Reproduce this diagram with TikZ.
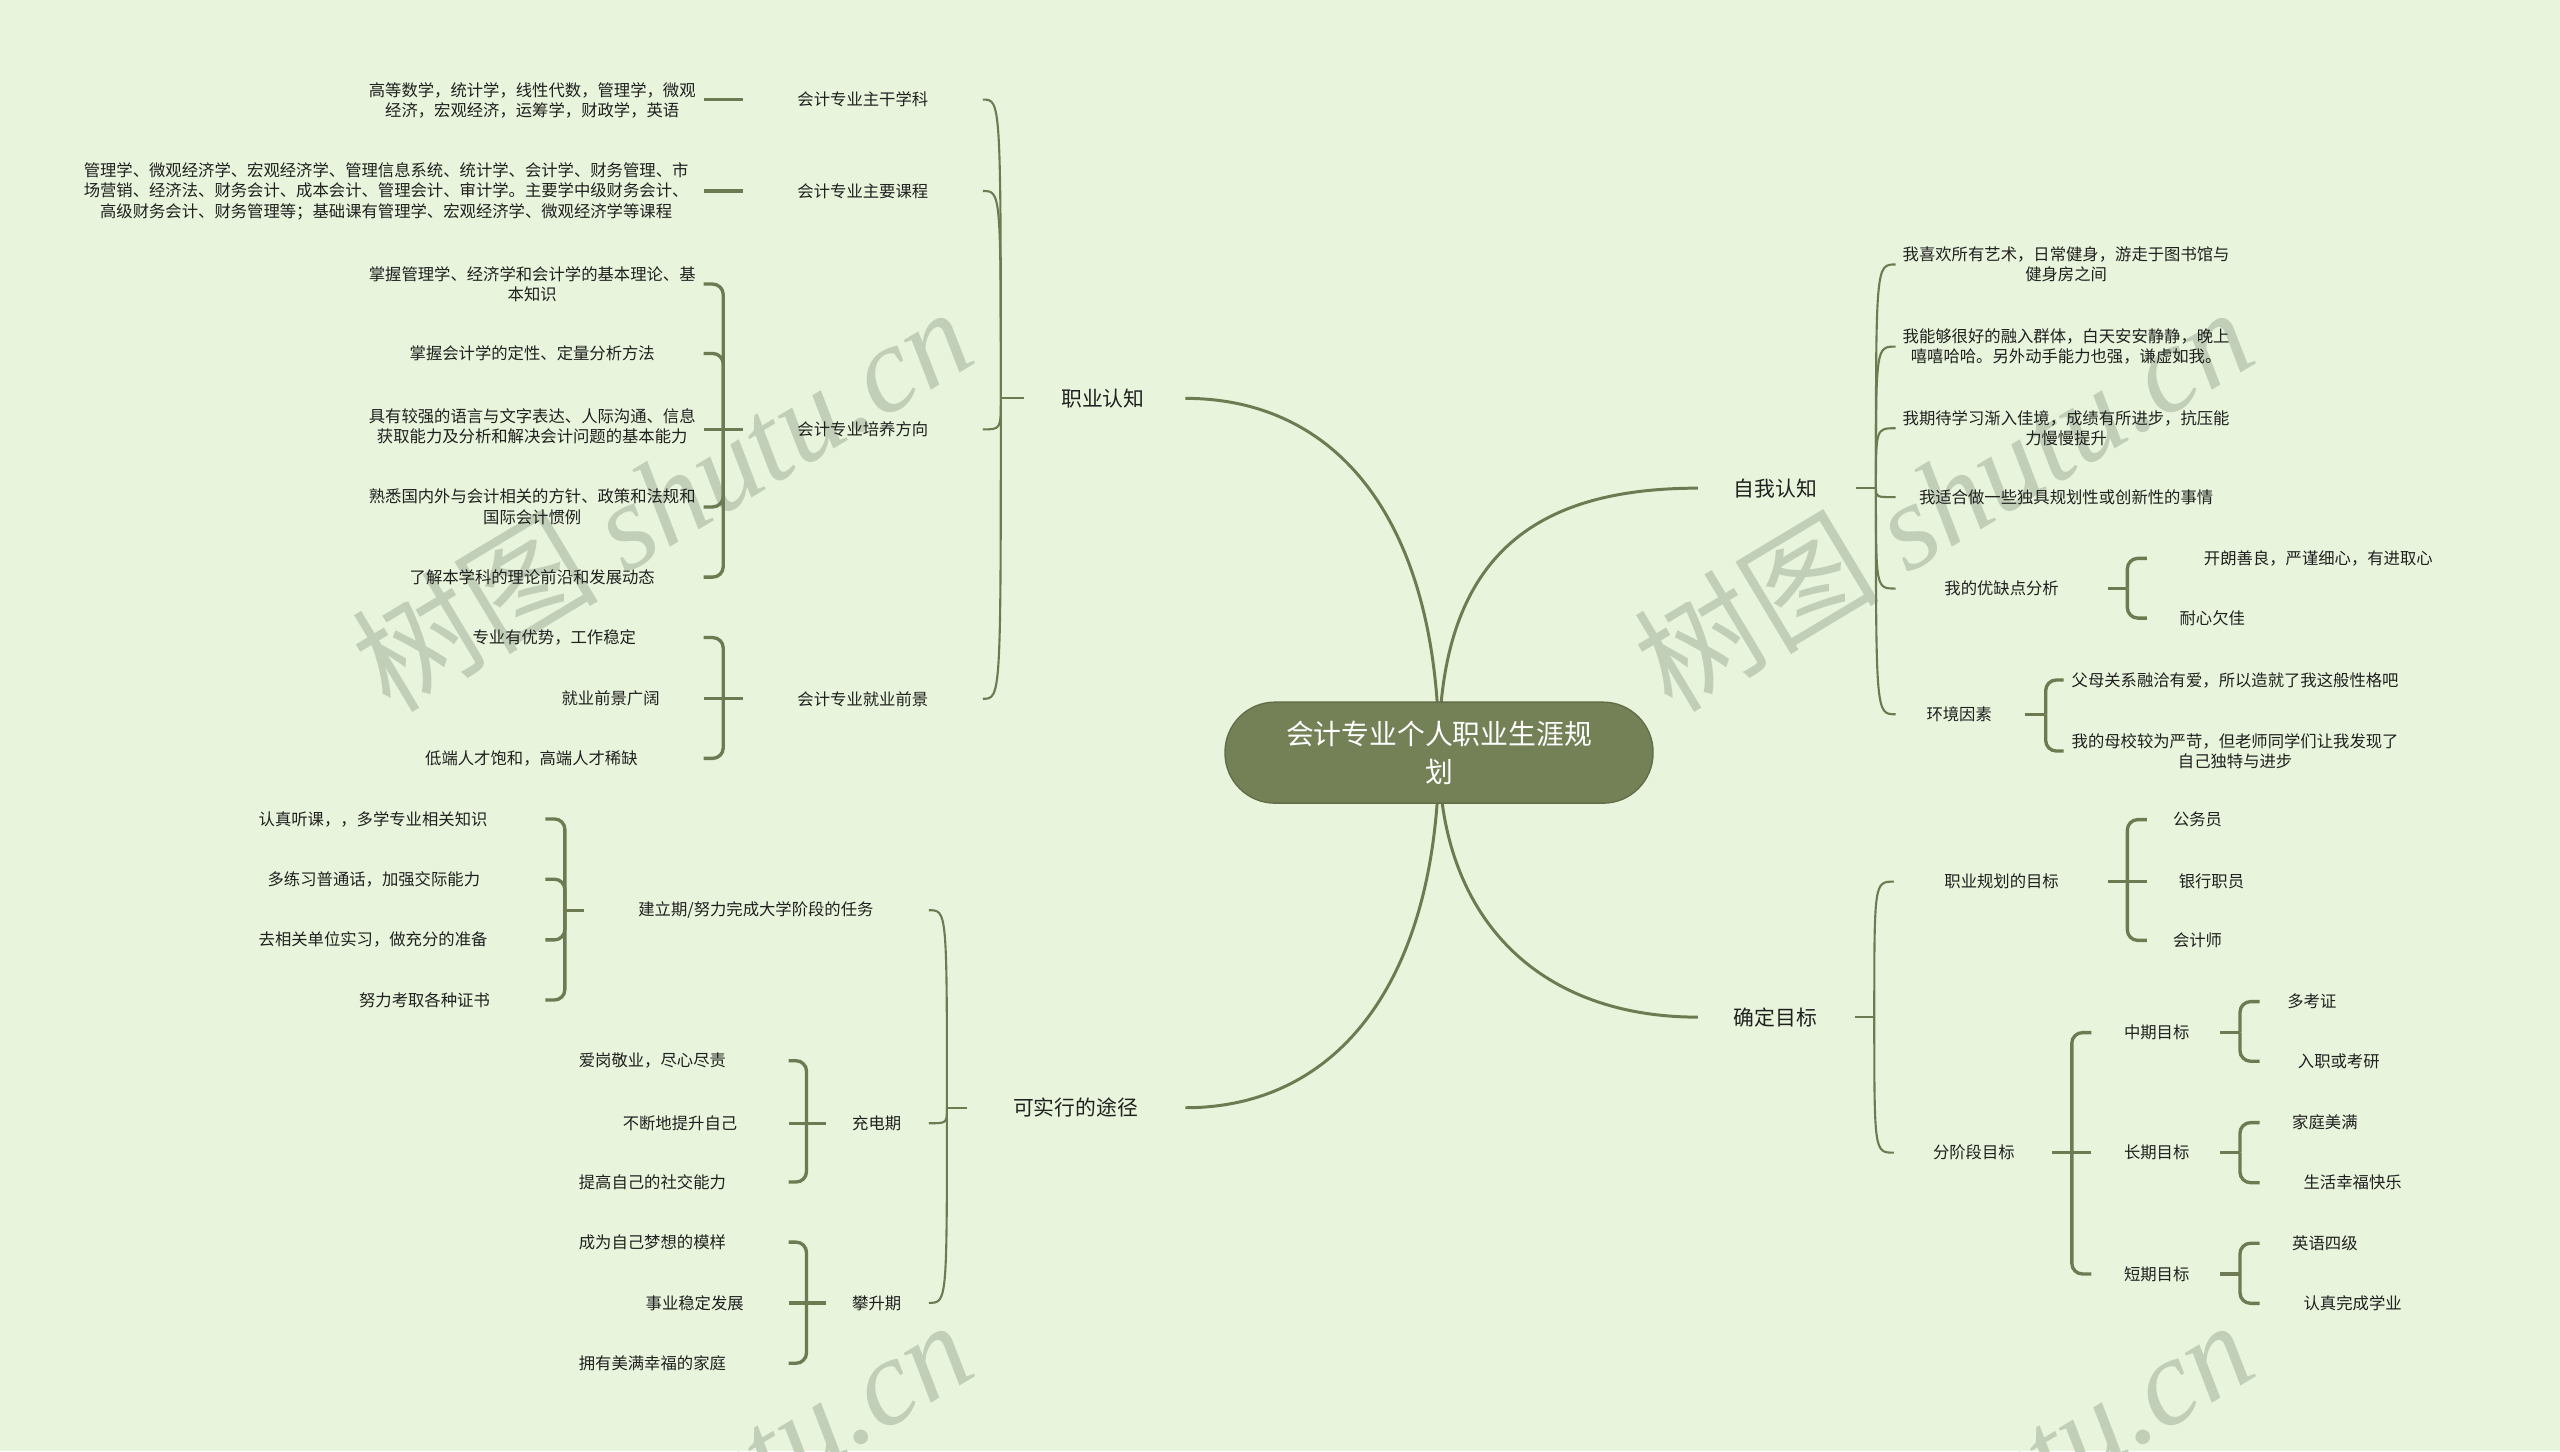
\documentclass[tikz,border=0pt]{standalone}
\usepackage{fontspec}
\setmainfont{Noto Sans CJK SC}
\newfontfamily\wmserif{Liberation Serif}
\usetikzlibrary{calc}
\definecolor{bgc}{RGB}{232,244,219}
\definecolor{lnc}{RGB}{110,123,82}
\definecolor{ctrc}{RGB}{116,129,86}
\definecolor{txc}{RGB}{32,32,32}
\definecolor{wmc}{RGB}{194,207,184}
\pgfdeclarelayer{bgfill}
\pgfdeclarelayer{wmark}
\pgfdeclarelayer{lines}
\pgfsetlayers{bgfill,wmark,lines,main}
\tikzset{
  sm/.style={font=\fontsize{4.65}{5.85}\selectfont, text=txc, align=center, inner sep=0pt},
  lb/.style={font=\fontsize{5.92}{7.5}\selectfont, text=txc, align=center, inner sep=0pt},
  mainln/.style={draw=lnc, line width=0.85pt},
  subln/.style={draw=lnc, line width=0.6pt},
  brk/.style={draw=lnc, line width=0.95pt, rounded corners=3pt},
  wm/.style={text=wmc, font=\fontsize{35}{35}\selectfont, inner sep=0pt},
  rootbox/.style={fill=ctrc, draw=ctrc!85!black, line width=0.4pt, rounded corners=0.5cm,
    minimum width=4.28cm, minimum height=1.01cm, inner sep=0pt, text=white, align=center,
    font=\fontsize{7.91}{10.7}\selectfont}
}
\begin{document}
\begin{tikzpicture}[x=0.016327cm,y=-0.016327cm]
\useasboundingbox (0,0) rectangle (1568,889);
\begin{pgfonlayer}{bgfill}
\fill[bgc] (0,0) rectangle (1568,889);
\end{pgfonlayer}
\begin{pgfonlayer}{wmark}
\node[wm, rotate=31] (w1) at (405,305) {树图 {\wmserif\itshape shutu.cn}};
\node[wm, rotate=31] (w2) at (1190,305) {树图 {\wmserif\itshape shutu.cn}};
\node[wm, rotate=31] (w3) at (405,925) {树图 {\wmserif\itshape shutu.cn}};
\node[wm, rotate=31] (w4) at (1190,925) {树图 {\wmserif\itshape shutu.cn}};
\end{pgfonlayer}

% x reference coordinates
\foreach \v in {726,627,613,602,455,443,431,592,580,569,358,346,334,506,494,483,1040,1137,1149,1161,1291,1303,1315,1240,1253,1264,1136,1148,1160,1257,1269,1281,1360,1372,1384}
  \coordinate (x\v) at (\v,0);

% root
\node[rootbox] (root) at (881.4,461) {会计专业个人职业生涯规\\划};

% main branches
\node[lb] (zy) at (675.5,244) {职业认知};
\node[lb] (kx) at (658.75,678.5) {可实行的途径};
\node[lb] (zw) at (1087.5,299) {自我认知};
\node[lb] (qd) at (1087.5,623) {确定目标};

% 职业认知 children
\node[sm] (a1) at (528.5,61) {会计专业主干学科};
\node[sm] (a2) at (528.5,117) {会计专业主要课程};
\node[sm] (a3) at (528.5,263) {会计专业培养方向};
\node[sm] (a4) at (528.5,428) {会计专业就业前景};
\node[sm] (b1) at (326,61.5) {高等数学，统计学，线性代数，管理学，微观\\经济，宏观经济，运筹学，财政学，英语};
\node[sm] (b2) at (236.5,117) {管理学、微观经济学、宏观经济学、管理信息系统、统计学、会计学、财务管理、市\\场营销、经济法、财务会计、成本会计、管理会计、审计学。主要学中级财务会计、\\高级财务会计、财务管理等；基础课有管理学、宏观经济学、微观经济学等课程};
\node[sm] (c1) at (326,174) {掌握管理学、经济学和会计学的基本理论、基\\本知识};
\node[sm] (c2) at (326,216.5) {掌握会计学的定性、定量分析方法};
\node[sm] (c3) at (326,261) {具有较强的语言与文字表达、人际沟通、信息\\获取能力及分析和解决会计问题的基本能力};
\node[sm] (c4) at (326,310.5) {熟悉国内外与会计相关的方针、政策和法规和\\国际会计惯例};
\node[sm] (c5) at (326,353.5) {了解本学科的理论前沿和发展动态};
\node[sm] (d1) at (339.5,390.5) {专业有优势，工作稳定};
\node[sm] (d2) at (374,428) {就业前景广阔};
\node[sm] (d3) at (325.5,464.5) {低端人才饱和，高端人才稀缺};

% 可实行的途径 children
\node[sm] (e1) at (463,557.5) {建立期/努力完成大学阶段的任务};
\node[sm] (e2) at (537,688) {充电期};
\node[sm] (e3) at (537,798) {攀升期};
\node[sm] (f1) at (228.5,501.6) {认真听课，，多学专业相关知识};
\node[sm] (f2) at (229,538.5) {多练习普通话，加强交际能力};
\node[sm] (f3) at (228.5,575.7) {去相关单位实习，做充分的准备};
\node[sm] (f4) at (260,612.5) {努力考取各种证书};
\node[sm] (g1) at (399.6,649.7) {爱岗敬业，尽心尽责};
\node[sm] (g2) at (416.5,688) {不断地提升自己};
\node[sm] (g3) at (399.6,724) {提高自己的社交能力};
\node[sm] (h1) at (399.6,760.8) {成为自己梦想的模样};
\node[sm] (h2) at (425.5,798) {事业稳定发展};
\node[sm] (h3) at (399.6,835) {拥有美满幸福的家庭};

% 自我认知 children
\node[sm] (i1) at (1265.5,162) {我喜欢所有艺术，日常健身，游走于图书馆与\\健身房之间};
\node[sm] (i2) at (1265.5,212.3) {我能够很好的融入群体，白天安安静静，晚上\\嘻嘻哈哈。另外动手能力也强，谦虚如我。};
\node[sm] (i3) at (1265.5,262.3) {我期待学习渐入佳境，成绩有所进步，抗压能\\力慢慢提升};
\node[sm] (i4) at (1265.5,304.5) {我适合做一些独具规划性或创新性的事情};
\node[sm] (i5) at (1226,360.5) {我的优缺点分析};
\node[sm] (i6) at (1200,437.5) {环境因素};
\node[sm] (j1) at (1420,342) {开朗善良，严谨细心，有进取心};
\node[sm] (j2) at (1355,378.6) {耐心欠佳};
\node[sm] (k1) at (1369,416.5) {父母关系融洽有爱，所以造就了我这般性格吧};
\node[sm] (k2) at (1369,460) {我的母校较为严苛，但老师同学们让我发现了\\自己独特与进步};

% 确定目标 children
\node[sm] (l1) at (1226,540) {职业规划的目标};
\node[sm] (l2) at (1209,706) {分阶段目标};
\node[sm] (m1) at (1346,502) {公务员};
\node[sm] (m2) at (1354.5,540) {银行职员};
\node[sm] (m3) at (1346,576) {会计师};
\node[sm] (n1) at (1321,632.5) {中期目标};
\node[sm] (n2) at (1321,706) {长期目标};
\node[sm] (n3) at (1321,780.3) {短期目标};
\node[sm] (o1) at (1416,613.5) {多考证};
\node[sm] (o2) at (1432.5,650) {入职或考研};
\node[sm] (o3) at (1424,687.6) {家庭美满};
\node[sm] (o4) at (1441,724.4) {生活幸福快乐};
\node[sm] (o5) at (1424,761.5) {英语四级};
\node[sm] (o6) at (1441,798.3) {认真完成学业};

\begin{pgfonlayer}{lines}
% main curves
\draw[mainln] (root.center) .. controls (881,320) and (820,244) .. (zy -| x726);
\draw[mainln] (root.center) .. controls (881,340) and (940,299) .. (zw -| x1040);
\draw[mainln] (root.center) .. controls (881,600) and (820,678.5) .. (kx -| x726);
\draw[mainln] (root.center) .. controls (881,560) and (940,623) .. (qd -| x1040);

% 职业认知
\draw[subln] (zy -| x627) -- (zy -| x613);
\foreach \c in {a1,a2,a3,a4}
  \draw[subln] (zy -| x613) .. controls (x613 |- \c) and (x613 |- \c) .. (\c -| x602);
\draw[brk] (a1 -| x455) -- (a1 -| x431);
\draw[brk] (a2 -| x455) -- (a2 -| x431);
\draw[brk] (a3 -| x455) -- (a3 -| x431);
\foreach \c in {c1,c2,c4,c5} \draw[brk] (a3 -| x443) |- (\c -| x431);
\draw[brk] (a4 -| x455) -- (a4 -| x431);
\foreach \c in {d1,d3} \draw[brk] (a4 -| x443) |- (\c -| x431);

% 可实行的途径
\draw[subln] (kx -| x592) -- (kx -| x580);
\foreach \c in {e1,e2,e3}
  \draw[subln] (kx -| x580) .. controls (x580 |- \c) and (x580 |- \c) .. (\c -| x569);
\draw[brk] (e1 -| x358) -- (e1 -| x346);
\foreach \c in {f1,f2,f3,f4} \draw[brk] (e1 -| x346) |- (\c -| x334);
\draw[brk] (e2 -| x506) -- (e2 -| x483);
\foreach \c in {g1,g3} \draw[brk] (e2 -| x494) |- (\c -| x483);
\draw[brk] (e3 -| x506) -- (e3 -| x483);
\foreach \c in {h1,h3} \draw[brk] (e3 -| x494) |- (\c -| x483);

% 自我认知
\draw[subln] (zw -| x1137) -- (zw -| x1149);
\foreach \c in {i1,i2,i3,i4,i5,i6}
  \draw[subln] (zw -| x1149) .. controls (x1149 |- \c) and (x1149 |- \c) .. (\c -| x1161);
\draw[brk] (i5 -| x1291) -- (i5 -| x1303);
\foreach \c in {j1,j2} \draw[brk] (i5 -| x1303) |- (\c -| x1315);
\draw[brk] (i6 -| x1240) -- (i6 -| x1253);
\foreach \c in {k1,k2} \draw[brk] (i6 -| x1253) |- (\c -| x1264);

% 确定目标
\draw[subln] (qd -| x1136) -- (qd -| x1148);
\foreach \c in {l1,l2}
  \draw[subln] (qd -| x1148) .. controls (x1148 |- \c) and (x1148 |- \c) .. (\c -| x1160);
\draw[brk] (l1 -| x1291) -- (l1 -| x1315);
\foreach \c in {m1,m3} \draw[brk] (l1 -| x1303) |- (\c -| x1315);
\draw[brk] (l2 -| x1257) -- (l2 -| x1281);
\foreach \c in {n1,n3} \draw[brk] (l2 -| x1269) |- (\c -| x1281);
\foreach \p/\a/\b in {n1/o1/o2,n2/o3/o4,n3/o5/o6}{
  \draw[brk] (\p -| x1360) -- (\p -| x1372);
  \draw[brk] (\p -| x1372) |- (\a -| x1384);
  \draw[brk] (\p -| x1372) |- (\b -| x1384);
}
\end{pgfonlayer}
\end{tikzpicture}
\end{document}
